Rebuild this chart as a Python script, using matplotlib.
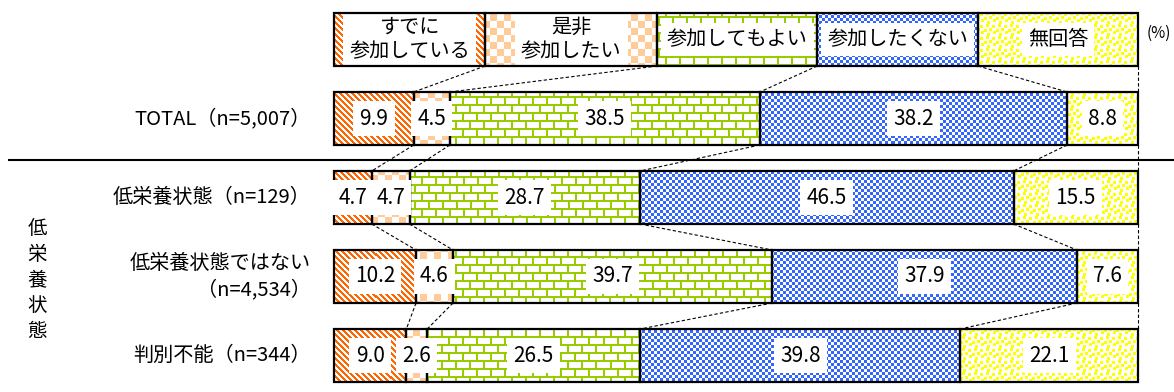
import numpy as np
import matplotlib.pyplot as plt

plt.rcParams['font.family'] = ['Noto Sans CJK JP', 'DejaVu Sans']

# answer categories and groups
answers = ['すでに\n参加している', '是非\n参加したい', '参加してもよい', '参加したくない', '無回答']
groups = ['TOTAL（n=5,007）', '低栄養状態（n=129）', '低栄養状態ではない\n（n=4,534）', '判別不能（n=344）']

# percentages per group (TOTAL, low nutrition, not low, undetermined)
already = [9.9, 4.7, 10.2, 9.0]
eager = [4.5, 4.7, 4.6, 2.6]
willing = [38.5, 28.7, 39.7, 26.5]
unwilling = [38.2, 46.5, 37.9, 39.8]
no_answer = [8.8, 15.5, 7.6, 22.1]

# widths of the legend boxes on top (in %)
legend_widths = [18.8, 21.4, 19.9, 20.0, 19.9]

# layout in figure pixels
W, H = 1174, 392
X0, SCALE = 334, 8.04          # pixel of 0 %, pixels per 1 %
row_y = [39.5, 118.5, 197.5, 276.5, 355.5]   # legend row first
bar_h = 53


def px(x):
    return (x - X0) / SCALE


# fill patterns, built on the figure pixel grid
yy, xx = np.mgrid[0:H, 0:W]


def texture(mask, color):
    img = np.ones((H, W, 3))
    img[mask] = color
    return img


conf = np.zeros((12, 12), bool)
for r, c in [(0, 2), (1, 8), (4, 5), (5, 0), (7, 9), (9, 3)]:
    conf[r:r + 3, c:c + 3] = True

brick = (yy % 8 < 2) | (((xx + 7 * ((yy // 8) % 2)) % 14) < 2)
textures = [
    texture(((xx - yy) % 6) < 3, (1.0, 0.4, 0.0)),
    texture(((xx // 7 + yy // 7) % 2) == 0, (1.0, 0.8, 0.6)),
    texture(brick, (0.6, 0.8, 0.0)),
    texture(((xx // 3 + yy // 3) % 2) == 0, (0.2, 0.4, 1.0)),
    texture(conf[yy % 12, xx % 12], (1.0, 1.0, 0.0)),
]

fig = plt.figure(figsize=(W / 100, H / 100), dpi=100)
ax = fig.add_axes([0, 0, 1, 1])
ax.axis('off')

rows = [legend_widths] + [list(v) for v in zip(already, eager, willing, unwilling, no_answer)]
box = dict(boxstyle='square,pad=0.3', fc='white', ec='none')

edges = []
for r, vals in enumerate(rows):
    shares = np.array(vals) / sum(vals) * 100
    lefts = np.concatenate([[0], np.cumsum(shares)[:-1]])
    edges.append(np.cumsum(shares))
    bars = ax.barh(row_y[r], shares, left=lefts, height=bar_h, facecolor='none',
                   edgecolor='black', linewidth=1.6, zorder=4)
    for k, bar in enumerate(bars):
        im = ax.imshow(textures[k], extent=(px(0), px(W), H, 0), interpolation='nearest',
                       aspect='auto', zorder=1)
        im.set_clip_path(bar)
        if r == 0:
            ax.text(lefts[k] + shares[k] / 2, row_y[r], answers[k], ha='center', va='center',
                    fontsize=14.5, linespacing=1.2, zorder=3, bbox=box)
        else:
            ax.text(lefts[k] + shares[k] / 2, row_y[r], f'{vals[k]:.1f}', ha='center',
                    va='center', fontsize=15, zorder=5, bbox=box)
    if r > 0:
        ax.text(px(311), row_y[r], groups[r - 1], ha='right', va='center',
                multialignment='right', fontsize=14.5, linespacing=1.3)

# dashed series lines between the bars
for r in range(len(rows) - 1):
    for a, b in zip(edges[r], edges[r + 1]):
        ax.plot([a, b], [row_y[r] + bar_h / 2, row_y[r + 1] - bar_h / 2], color='black',
                lw=0.8, ls=(0, (3, 2)), zorder=2)

ax.plot([px(9), px(W)], [160, 160], color='black', lw=1.5)
ax.text(px(37), 280, '\n'.join('低栄養状態'), ha='center', va='center', fontsize=14,
        linespacing=1.3)
ax.text(px(1159), 33, '(%)', ha='center', va='center', fontsize=11)

ax.set_xlim(px(0), px(W))
ax.set_ylim(H, 0)
fig.savefig('out.png', dpi=100)
